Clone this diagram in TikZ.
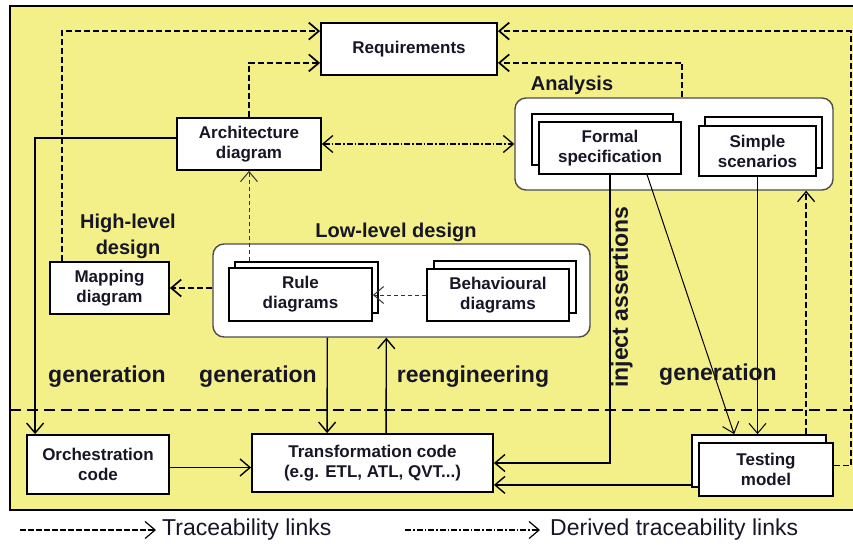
\documentclass[tikz,border=0pt]{standalone}
\usepackage{fontspec}
\setmainfont{Liberation Sans}
\usetikzlibrary{arrows.meta,calc}
\definecolor{bgyellow}{RGB}{243,240,138}
\definecolor{ink}{RGB}{22,22,38}
\newcommand\boxfont{\bfseries\fontsize{17}{20}\selectfont}
\tikzset{
  box/.style={draw=black, fill=white, line width=1.8pt, align=center, inner sep=0pt, text=ink, font=\boxfont},
  group/.style={draw=black!70, fill=white, line width=1.4pt, rounded corners=11pt},
  lbl/.style={text=ink, font=\bfseries\fontsize{20}{26}\selectfont, align=center},
  big/.style={text=ink, font=\bfseries\fontsize{23}{26}\selectfont},
  legendtext/.style={text=ink, font=\fontsize{23}{26}\selectfont, anchor=west, inner sep=0pt},
  flow/.style={line width=1.4pt},
  flowthin/.style={line width=1pt},
  trace/.style={line width=1.7pt, dash pattern=on 6pt off 3pt},
  tracethin/.style={line width=1pt, draw=black!80, dash pattern=on 4pt off 3pt},
  derived/.style={line width=1.3pt, dash pattern=on 6pt off 2pt on 1.5pt off 2pt},
}
\begin{document}
\begin{tikzpicture}[x=1pt,y=-1pt,>={Straight Barb[length=10pt,width=17pt]}]
\useasboundingbox (0,0) rectangle (853,544);
\draw[fill=bgyellow, line width=1.8pt] (10,6) rectangle (856,510);
% boundary between models and code
\draw[line width=1.8pt, dash pattern=on 11pt off 6pt] (10,410) -- (856,410);

% groups
\node[group, minimum width=318pt, minimum height=92pt] (ana) at (674,144) {};
\node[group, minimum width=377pt, minimum height=93pt] (low) at (401.5,290.5) {};
\node[lbl] (analbl) at (572,85) {Analysis};
\node[lbl] (lowlbl) at (396,232) {Low-level design};
\node[lbl] (highlbl) at (128,236) {High-level\\design};

% single boxes
\node[box, minimum width=176pt, minimum height=52pt] (req) at (409,49) {Requirements};
\node[box, minimum width=144pt, minimum height=52pt] (arch) at (249,144) {Architecture\\diagram};
\node[box, minimum width=119pt, minimum height=52pt] (map) at (109.5,288) {Mapping\\diagram};
\node[box, minimum width=142pt, minimum height=59pt] (orch) at (98,464.5) {Orchestration\\code};
\node[box, minimum width=241pt, minimum height=58pt] (trans) at (372.5,463) {Transformation code\\(e.g. ETL, ATL, QVT...)};

% stacked boxes
\node[box, minimum width=141pt, minimum height=51pt] (formalb) at (602.5,139.5) {};
\node[box, minimum width=142pt, minimum height=52pt] (formal) at (610,148) {Formal\\specification};
\node[box, minimum width=117pt, minimum height=51pt] (simpleb) at (763.5,142.5) {};
\node[box, minimum width=117pt, minimum height=50pt] (simple) at (757.5,151) {Simple\\scenarios};
\node[box, minimum width=143pt, minimum height=51pt] (ruleb) at (306.5,287.5) {};
\node[box, minimum width=143pt, minimum height=53pt] (rule) at (300.5,294.5) {Rule\\diagrams};
\node[box, minimum width=142pt, minimum height=52pt] (behavb) at (505,287) {};
\node[box, minimum width=142pt, minimum height=52pt] (behav) at (498,295) {Behavioural\\diagrams};
\node[box, minimum width=134pt, minimum height=52pt] (testb) at (759,461) {};
\node[box, minimum width=134pt, minimum height=53pt] (test) at (766,469.5) {Testing\\model};

% traceability to requirements
\draw[trace,->] ($(map.north west)+(13,0)$) |- ($(req.north west)+(0,9)$);
\draw[trace,->] (arch.north) |- ($(req.south west)+(0,-13)$);
\draw[trace,->] ($(ana.north west)+(168,0)$) |- ($(req.south east)+(0,-13)$);
\draw[trace,->] ($(test.east)+(0,-4)$) -- ++(17,0) |- ($(req.north east)+(0,9)$);
\draw[derived,<->] (arch.east) -- (ana.west);
\draw[tracethin,->] (ruleb.north -| arch.south) -- (arch.south);
\draw[trace,->] (low.west |- map.east) -- (map.east);
\draw[tracethin,->] (behav.west) -- (behav.west -| rule.east);
\coordinate (tup) at ($(testb.north west)+(115,0)$);
\draw[trace,line width=1.3pt,->] (tup) -- (tup |- ana.south);

% generation / reengineering
\draw[flow,->] ($(arch.west)+(0,-6)$) -| ($(orch.north west)+(9,0)$);
\draw[flow,->] ($(low.south west)+(115,0)$) -- ($(trans.north west)+(76,0)$);
\draw[flow,->] ($(trans.north west)+(135,0)$) -- ($(low.south west)+(174,0)$);
\coordinate (oout) at ($(orch.east)+(0,3)$);
\draw[flow,->] (oout) -- (oout -| trans.west);
\draw[flow,->] (formal.south) |- (trans.east);
\coordinate (tin) at ($(trans.south east)+(0,-8)$);
\draw[flow,->] (testb.west |- tin) -- (tin);
\draw[flowthin,->] ($(formal.south west)+(109,0)$) -- ($(testb.north west)+(43,0)$);
\draw[flowthin,->] (simple.south) -- (simple.south |- testb.north);

\node[big] (gen1) at (107,377) {generation};
\node[big] (gen2) at (258,377) {generation};
\node[big] (reeng) at (473,377) {reengineering};
\node[big] (gen3) at (718,375) {generation};
\node[big, rotate=90] (inject) at (622,297) {inject assertions};

% legend
\node[legendtext] (leg1) at (162,530) {Traceability links};
\node[legendtext] (leg2) at (550,530) {Derived traceability links};
\coordinate (l1) at (20,530);
\coordinate (l2) at (405,530);
\draw[line width=1.2pt, dash pattern=on 6pt off 2pt, ->] (l1) -- ($(leg1.west)+(-6,0)$);
\draw[line width=1.2pt, dash pattern=on 6pt off 2pt on 1.5pt off 2pt, ->] (l2) -- ($(leg2.west)+(-10,0)$);
\end{tikzpicture}
\end{document}
